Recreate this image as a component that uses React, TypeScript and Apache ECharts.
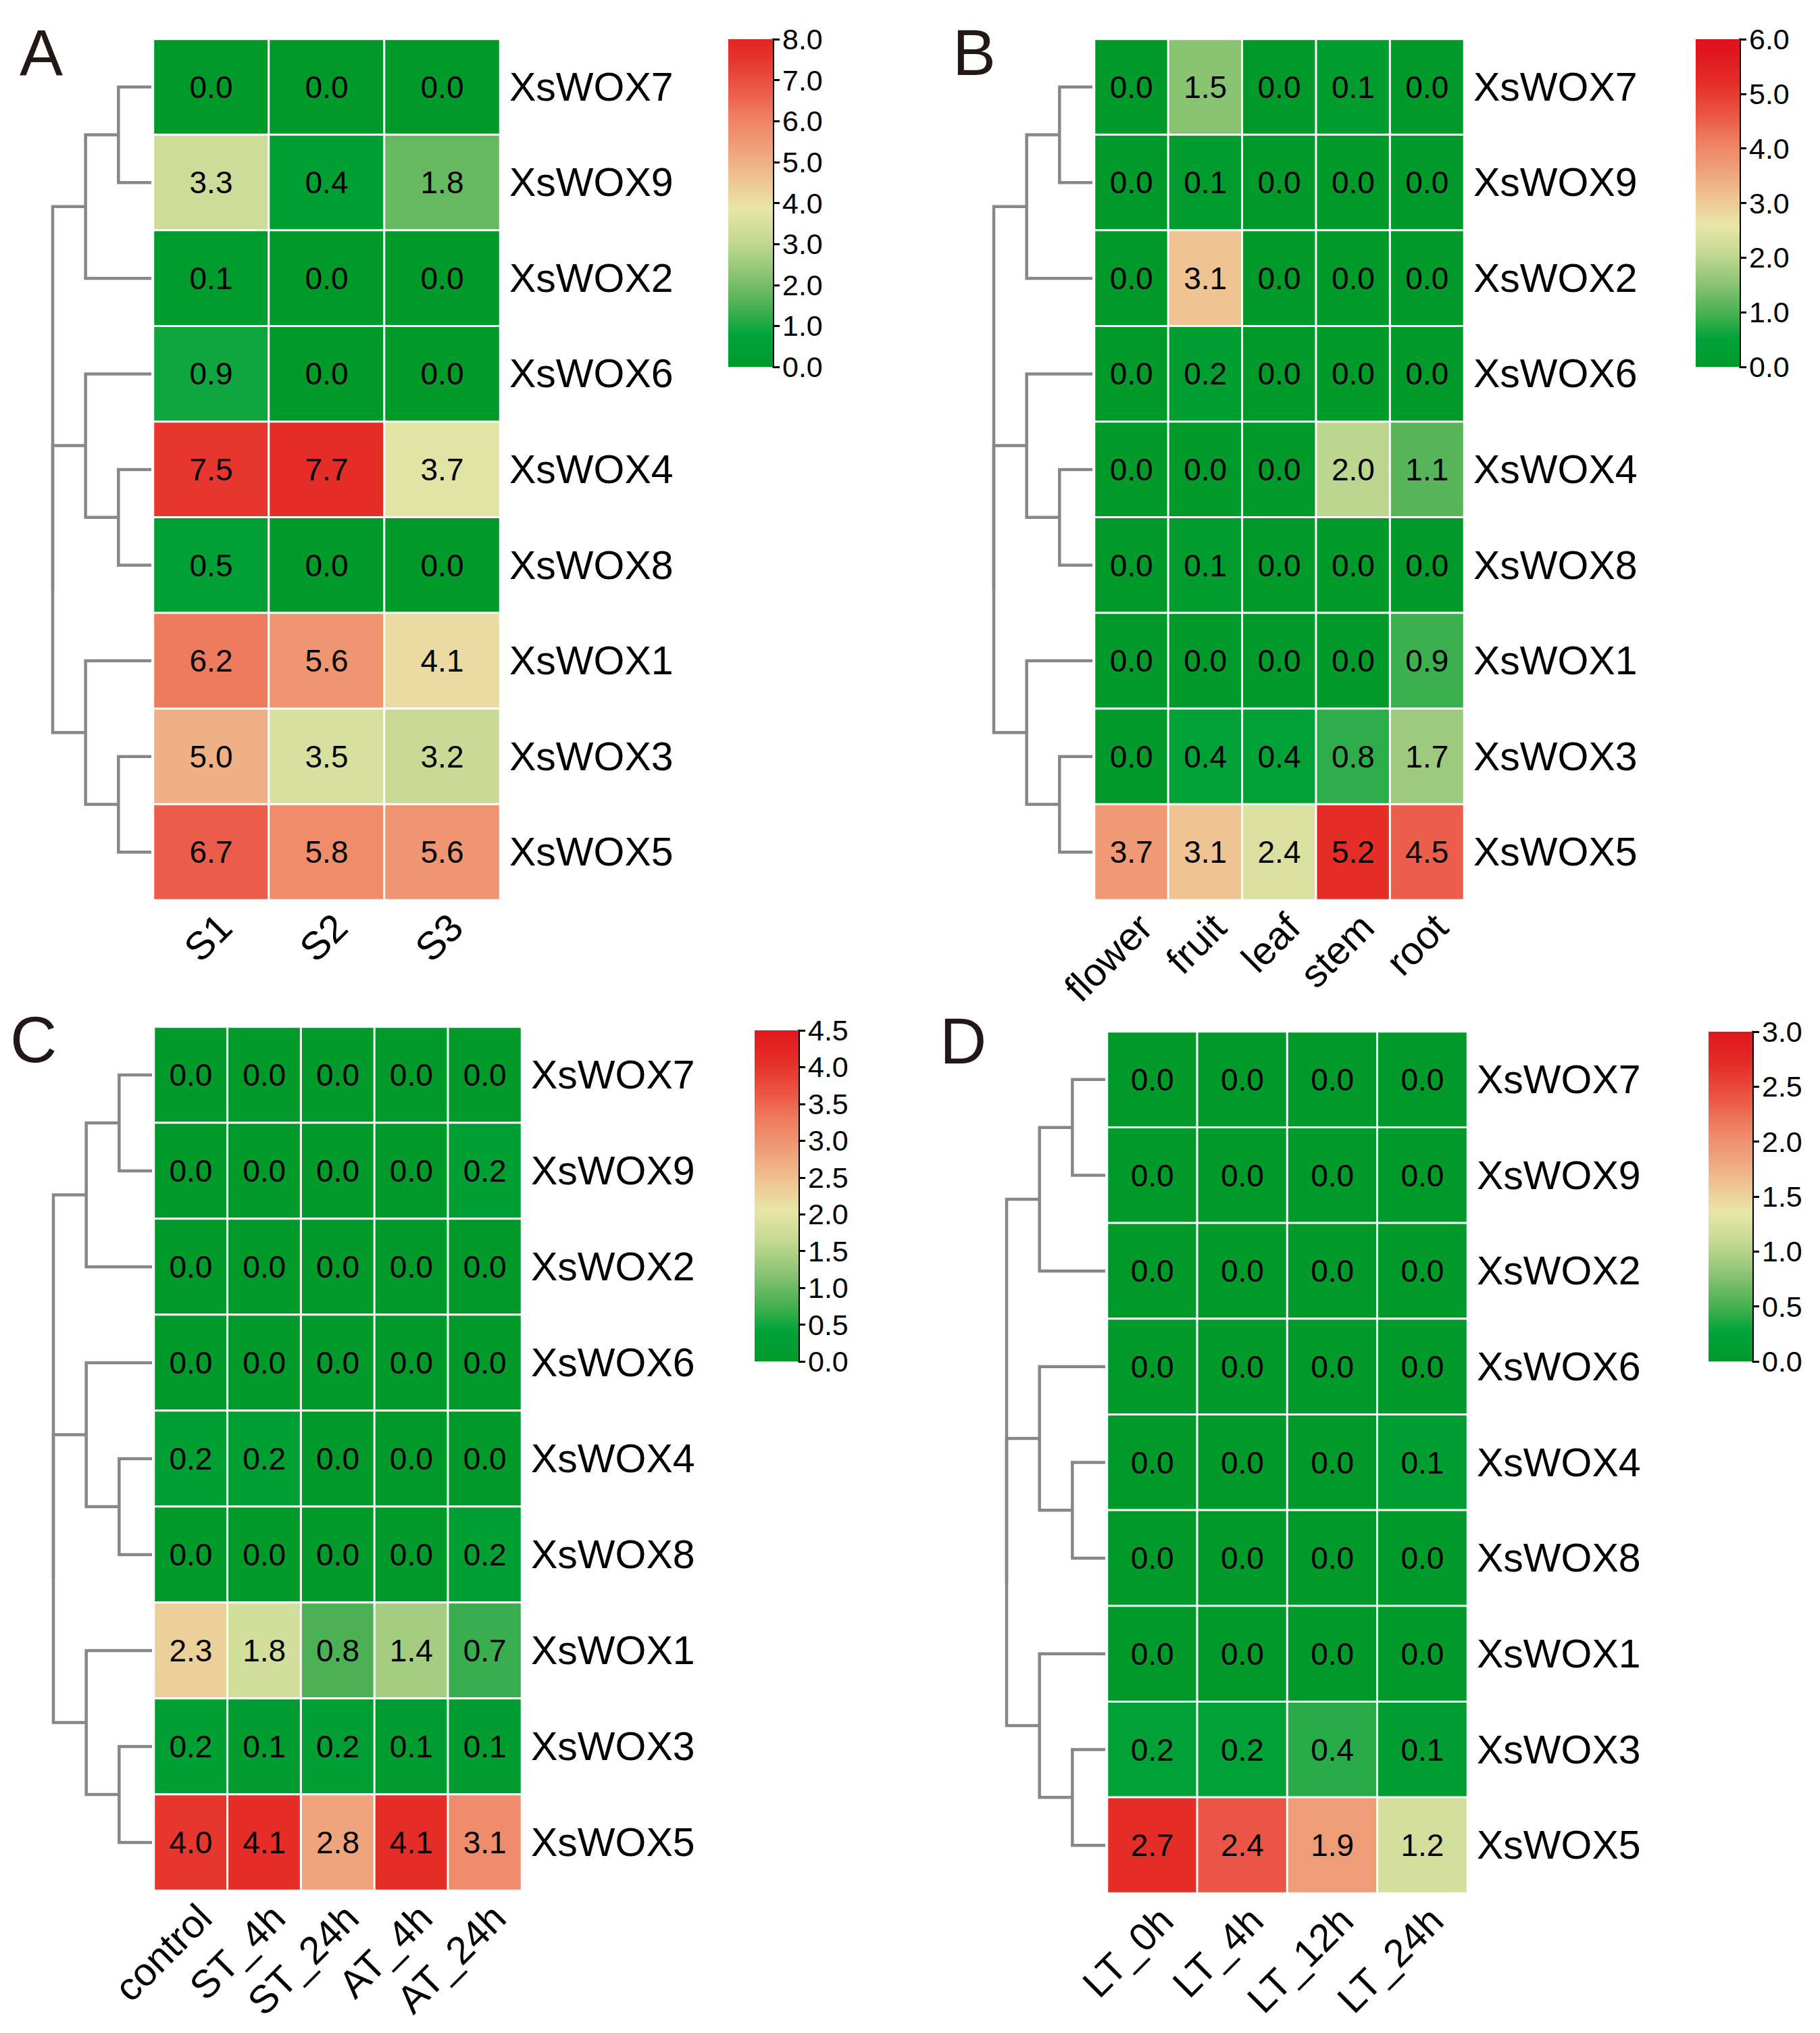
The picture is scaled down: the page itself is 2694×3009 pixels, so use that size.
import React, { useEffect, useRef } from "react";
import * as echarts from "echarts";

const FONT = "'Liberation Sans', Arial, Helvetica, sans-serif";

const ROWS = ["XsWOX7", "XsWOX9", "XsWOX2", "XsWOX6", "XsWOX4", "XsWOX8", "XsWOX1", "XsWOX3", "XsWOX5"];

const COLS_A = ["S1", "S2", "S3"];
const VALUES_A = [
  [0.0, 0.0, 0.0],
  [3.3, 0.4, 1.8],
  [0.1, 0.0, 0.0],
  [0.9, 0.0, 0.0],
  [7.5, 7.7, 3.7],
  [0.5, 0.0, 0.0],
  [6.2, 5.6, 4.1],
  [5.0, 3.5, 3.2],
  [6.7, 5.8, 5.6],
];

const COLS_B = ["flower", "fruit", "leaf", "stem", "root"];
const VALUES_B = [
  [0.0, 1.5, 0.0, 0.1, 0.0],
  [0.0, 0.1, 0.0, 0.0, 0.0],
  [0.0, 3.1, 0.0, 0.0, 0.0],
  [0.0, 0.2, 0.0, 0.0, 0.0],
  [0.0, 0.0, 0.0, 2.0, 1.1],
  [0.0, 0.1, 0.0, 0.0, 0.0],
  [0.0, 0.0, 0.0, 0.0, 0.9],
  [0.0, 0.4, 0.4, 0.8, 1.7],
  [3.7, 3.1, 2.4, 5.2, 4.5],
];

const COLS_C = ["control", "ST_4h", "ST_24h", "AT_4h", "AT_24h"];
const VALUES_C = [
  [0.0, 0.0, 0.0, 0.0, 0.0],
  [0.0, 0.0, 0.0, 0.0, 0.2],
  [0.0, 0.0, 0.0, 0.0, 0.0],
  [0.0, 0.0, 0.0, 0.0, 0.0],
  [0.2, 0.2, 0.0, 0.0, 0.0],
  [0.0, 0.0, 0.0, 0.0, 0.2],
  [2.3, 1.8, 0.8, 1.4, 0.7],
  [0.2, 0.1, 0.2, 0.1, 0.1],
  [4.0, 4.1, 2.8, 4.1, 3.1],
];

const COLS_D = ["LT_0h", "LT_4h", "LT_12h", "LT_24h"];
const VALUES_D = [
  [0.0, 0.0, 0.0, 0.0],
  [0.0, 0.0, 0.0, 0.0],
  [0.0, 0.0, 0.0, 0.0],
  [0.0, 0.0, 0.0, 0.0],
  [0.0, 0.0, 0.0, 0.1],
  [0.0, 0.0, 0.0, 0.0],
  [0.0, 0.0, 0.0, 0.0],
  [0.2, 0.2, 0.4, 0.1],
  [2.7, 2.4, 1.9, 1.2],
];

// colour bar scales (max, tick step)
const BAR_A = [8, 1];
const BAR_B = [6, 1];
const BAR_C = [4.5, 0.5];
const BAR_D = [3, 0.5];

// row dendrogram: [child, child, height]; leaves are row indices 0..8, merged nodes are 9, 10, ...
const TREE_MERGES = [
  [0, 1, 1],
  [9, 2, 2],
  [4, 5, 1],
  [3, 11, 2],
  [7, 8, 1],
  [6, 13, 2],
  [12, 14, 3],
  [10, 15, 3],
];
const TREE_MAX = 3;

// colour ramp: green -> pale yellow -> red, relative to the panel's data maximum
const CMAP: [number, string][] = [
  [0, "#009a2b"],
  [0.1, "#00a33a"],
  [0.15, "#2aac48"],
  [0.2, "#50b255"],
  [0.3, "#8fc576"],
  [0.4, "#c4d893"],
  [0.5, "#e8e6a8"],
  [0.6, "#efc291"],
  [0.7, "#ef9e78"],
  [0.8, "#ee7d60"],
  [0.87, "#ec5c4a"],
  [1.0, "#e52d27"],
  [1.12, "#df141c"],
];

function hexToRgb(h: string) {
  const n = parseInt(h.slice(1), 16);
  return [(n >> 16) & 255, (n >> 8) & 255, n & 255];
}
function cmap(s: number) {
  const t = Math.max(0, Math.min(s, CMAP[CMAP.length - 1][0]));
  for (let i = 1; i < CMAP.length; i++) {
    if (t <= CMAP[i][0]) {
      const [s0, c0] = CMAP[i - 1];
      const [s1, c1] = CMAP[i];
      const f = (t - s0) / (s1 - s0);
      const a = hexToRgb(c0);
      const b = hexToRgb(c1);
      const c = a.map((v, k) => Math.round(v + (b[k] - v) * f));
      return `rgb(${c[0]},${c[1]},${c[2]})`;
    }
  }
  return CMAP[CMAP.length - 1][1];
}

const PANELS = [
  { letter: "A", letterPos: [29, 77], cols: COLS_A, values: VALUES_A, bar: BAR_A,
    heat: { left: 227, top: 58, width: 513, height: 1274 },
    barBox: { left: 1078, top: 58, width: 66, height: 485 } },
  { letter: "B", letterPos: [1410, 77], cols: COLS_B, values: VALUES_B, bar: BAR_B,
    heat: { left: 1620, top: 58, width: 547, height: 1274 },
    barBox: { left: 2510, top: 58, width: 65, height: 485 } },
  { letter: "C", letterPos: [15, 1538], cols: COLS_C, values: VALUES_C, bar: BAR_C,
    heat: { left: 228, top: 1520, width: 544, height: 1278 },
    barBox: { left: 1117, top: 1525, width: 65, height: 490 } },
  { letter: "D", letterPos: [1391, 1540], cols: COLS_D, values: VALUES_D, bar: BAR_D,
    heat: { left: 1639, top: 1527, width: 533, height: 1275 },
    barBox: { left: 2529, top: 1527, width: 65, height: 488 } },
];

function dendroSegments() {
  const pos: number[] = ROWS.map((_, i) => i);
  const h: number[] = ROWS.map(() => 0);
  const segs: number[][] = [];
  TREE_MERGES.forEach(([a, b, hm]) => {
    segs.push([h[a], pos[a], h[b], pos[b], hm]);
    pos.push((pos[a] + pos[b]) / 2);
    h.push(hm);
  });
  return segs;
}

function buildOption() {
  const grid: any[] = [];
  const xAxis: any[] = [];
  const yAxis: any[] = [];
  const series: any[] = [];
  const visualMap: any[] = [];
  const graphic: any[] = [];
  const segs = dendroSegments();
  const DW = 146;

  PANELS.forEach((p, pi) => {
    const g0 = pi * 3;
    const dataMax = Math.max(...p.values.flat());
    // heatmap grid
    grid.push({ ...p.heat, containLabel: false });
    xAxis.push({
      type: "category", gridIndex: g0, data: p.cols, position: "bottom",
      axisLine: { show: false }, axisTick: { show: false }, splitLine: { show: false },
      axisLabel: {
        interval: 0, rotate: 45, align: "right", verticalAlign: "top", margin: 10,
        fontSize: 58, color: "#000", fontFamily: FONT,
      },
    });
    yAxis.push({
      type: "category", gridIndex: g0, data: ROWS, inverse: true, position: "right",
      axisLine: { show: false }, axisTick: { show: false }, splitLine: { show: false },
      axisLabel: { margin: 14, fontSize: 59, color: "#000", fontFamily: FONT },
    });
    const data: any[] = [];
    p.values.forEach((row, r) => row.forEach((v, c) => data.push([c, r, v])));
    series.push({
      type: "heatmap", xAxisIndex: g0, yAxisIndex: g0, data,
      itemStyle: { borderColor: "#ffffff", borderWidth: 3 },
      label: {
        show: true, fontSize: 46, color: "#000", fontFamily: FONT,
        formatter: (q: any) => Number(q.value[2]).toFixed(1),
      },
      emphasis: { disabled: true },
    });
    const samples: string[] = [];
    for (let k = 0; k <= 40; k++) samples.push(cmap(k / 40));
    visualMap.push({
      type: "continuous", show: false, seriesIndex: g0, dimension: 2,
      min: 0, max: dataMax, inRange: { color: samples },
    });

    // dendrogram grid
    grid.push({ left: p.heat.left - 3 - DW, width: DW, top: p.heat.top, height: p.heat.height });
    xAxis.push({ type: "value", gridIndex: g0 + 1, min: 0, max: TREE_MAX, inverse: true, show: false });
    yAxis.push({ type: "value", gridIndex: g0 + 1, min: -0.5, max: ROWS.length - 0.5, inverse: true, show: false });
    series.push({
      type: "custom", xAxisIndex: g0 + 1, yAxisIndex: g0 + 1, data: segs,
      encode: { x: [0, 2, 4], y: [1, 3] },
      renderItem: (_params: any, api: any) => {
        const hl = api.value(0), yl = api.value(1), hr = api.value(2), yr = api.value(3), hm = api.value(4);
        return {
          type: "polyline",
          shape: { points: [api.coord([hl, yl]), api.coord([hm, yl]), api.coord([hm, yr]), api.coord([hr, yr])] },
          style: { stroke: "#878787", lineWidth: 4.5, fill: null },
        };
      },
      silent: true,
    });

    // colour bar grid
    const [bmax, bstep] = p.bar;
    grid.push({ ...p.barBox });
    xAxis.push({ type: "category", gridIndex: g0 + 2, data: ["bar"], show: false });
    yAxis.push({
      type: "value", gridIndex: g0 + 2, min: 0, max: bmax, interval: bstep, position: "right",
      axisLine: { show: true, lineStyle: { color: "#000", width: 3 } },
      axisTick: { show: true, length: 10, lineStyle: { color: "#000", width: 3 } },
      splitLine: { show: false },
      axisLabel: { margin: 14, fontSize: 43, color: "#000", fontFamily: FONT, formatter: (v: number) => v.toFixed(1) },
    });
    const stops: any[] = [];
    const N = 80;
    for (let k = 0; k <= N; k++) stops.push({ offset: k / N, color: cmap(((k / N) * bmax) / dataMax) });
    series.push({
      type: "bar", xAxisIndex: g0 + 2, yAxisIndex: g0 + 2, data: [bmax], barWidth: "100%",
      itemStyle: { color: new echarts.graphic.LinearGradient(0, 1, 0, 0, stops) },
      silent: true,
    });

    graphic.push({
      type: "text", x: p.letterPos[0], y: p.letterPos[1],
      style: { text: p.letter, fontSize: 96, fontFamily: FONT, fill: "#231815", align: "left", verticalAlign: "middle" },
    });
  });

  return {
    animation: false,
    backgroundColor: "#ffffff",
    textStyle: { fontFamily: FONT },
    grid, xAxis, yAxis, series, visualMap, graphic,
  };
}

export default function App() {
  const ref = useRef<HTMLDivElement>(null);
  useEffect(() => {
    document.body.style.margin = "0";
    const chart = echarts.init(ref.current!, null, { renderer: "svg" });
    chart.setOption(buildOption() as any);
    return () => chart.dispose();
  }, []);
  return <div ref={ref} style={{ width: 2694, height: 3009, background: "#fff" }} />;
}
